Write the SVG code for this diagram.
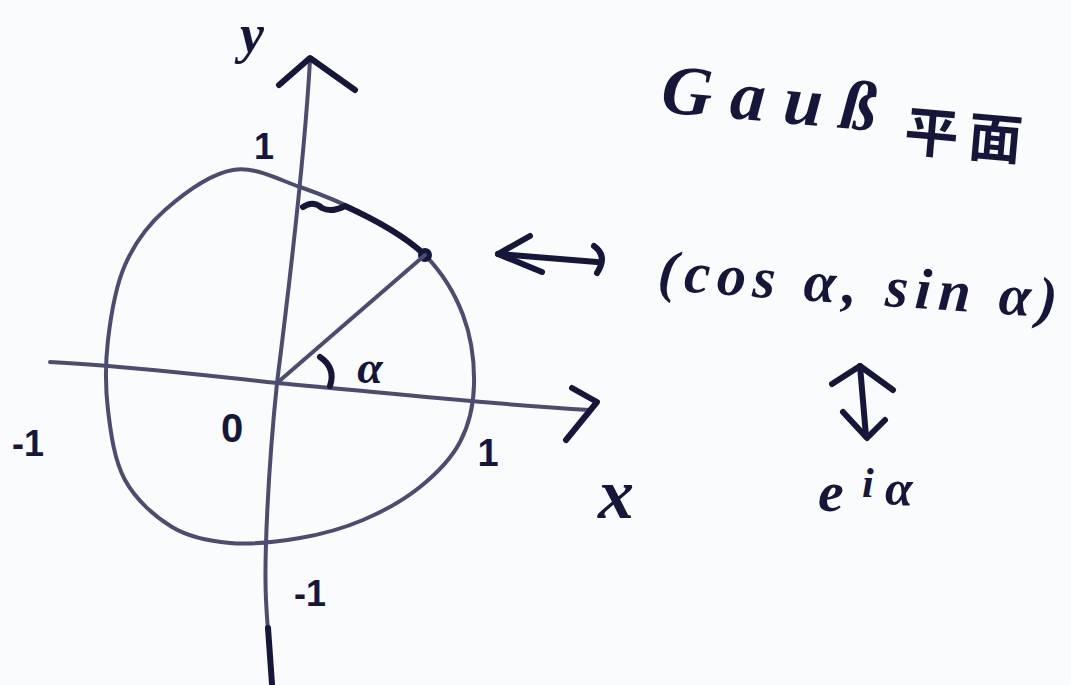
<svg xmlns="http://www.w3.org/2000/svg" width="1071" height="685" viewBox="0 0 1071 685">
<style>
.ink{fill:#16163a}
.t{font-family:"Liberation Serif","Noto Sans CJK JP",serif;font-style:italic;font-weight:bold;fill:#16163a}
.n{font-family:"Liberation Sans",sans-serif;font-weight:bold;fill:#16163a}
.cjk{font-family:"Noto Sans CJK JP","Noto Sans CJK SC",sans-serif;font-weight:bold;fill:#16163a}
.thin{fill:none;stroke:#4c4c70;stroke-width:4;stroke-linecap:round;stroke-linejoin:round}
.mark{fill:none;stroke:#16163a;stroke-width:6;stroke-linecap:round;stroke-linejoin:round}
</style>
<rect width="1071" height="685" fill="#f9fbfc"/>
<g id="circle">
<path class="thin" d="M233,170 C255.5,166.2 278,179.5 300,187 C322,194.5 344.2,203.7 365,215 C385.8,226.3 408.7,238.3 425,255 C441.3,271.7 454.8,293.3 463,315 C471.2,336.7 474.5,363.8 474,385 C473.5,406.2 469,425 460,442 C451,459 436.2,474 420,487 C403.8,500 383,511.5 363,520 C343,528.5 322.2,534.2 300,538 C277.8,541.8 251.3,544.8 230,543 C208.7,541.2 189.5,537.5 172,527 C154.5,516.5 135.7,499.5 125,480 C114.3,460.5 110.8,433.3 108,410 C105.2,386.7 105.2,364.2 108,340 C110.8,315.8 115.5,286.7 125,265 C134.5,243.3 147,225.8 165,210 C183,194.2 210.5,173.8 233,170 Z"/>
<path class="mark" stroke-width="5" d="M303,207 Q313,200 322,208 Q331,213 345,206 C365,215 400,232 425,255"/>
<circle cx="425" cy="255" r="7" class="ink"/>
</g>
<g id="axes">
<path class="thin" d="M310,60 C305,150 290,280 277,383 C268,470 264,560 266,600 C268,640 271,660 272,680"/>
<path class="mark" stroke-width="7" d="M268,628 L272,684"/>
<path class="mark" stroke-width="5" d="M279,85 L310,58 L355,90"/>
<path class="thin" d="M50,362 C130,366 210,376 277,383 C380,392 470,403 590,410"/>
<path class="mark" stroke-width="5" d="M572,388 L597,402 L566,440"/>
<path class="thin" d="M277,383 L425,255"/>
<path class="mark" stroke-width="5" d="M320,357 Q336,368 330,386"/>
</g>
<g id="labels">
<text class="t" x="240" y="52" font-size="54">y</text>
<text class="t" x="598" y="518" font-size="72">x</text>
<text class="n" x="232" y="442" font-size="40" text-anchor="middle">0</text>
<text class="n" x="264" y="159" font-size="36" text-anchor="middle">1</text>
<text class="n" x="488" y="466" font-size="38" text-anchor="middle">1</text>
<text class="n" x="28" y="456" font-size="36" text-anchor="middle">-1</text>
<text class="n" x="310" y="606" font-size="36" text-anchor="middle">-1</text>
<text class="t" x="370" y="383" font-size="46" text-anchor="middle">α</text>
</g>
<g id="title">
<text class="t" x="660" y="112" font-size="70" textLength="215" lengthAdjust="spacing" transform="rotate(5,660,112)">Gauß</text>
<text class="cjk" x="903" y="150" font-size="54" textLength="118" lengthAdjust="spacing" transform="rotate(5,903,150)">平面</text>
</g>
<g id="connectors">
<path class="mark" d="M498,254 L597,262"/>
<path class="mark" d="M530,236 L498,254 L542,272"/>
<path class="mark" d="M594,246 Q608,256 597,273"/>
<path class="mark" d="M866,436 L860,366"/>
<path class="mark" d="M832,384 L860,366 L893,390"/>
<path class="mark" d="M843,412 L867,438 L885,420"/>
</g>
<g id="pair">
<text class="t" x="657" y="290" font-size="58" textLength="400" lengthAdjust="spacing" transform="rotate(4,657,290)">(cos α, sin α)</text>
</g>
<g id="exp">
<text class="t" x="818" y="511" font-size="58">e<tspan x="862" font-size="42" dy="-14">i</tspan><tspan x="885" font-size="50" dy="8">α</tspan></text>
</g>
</svg>
